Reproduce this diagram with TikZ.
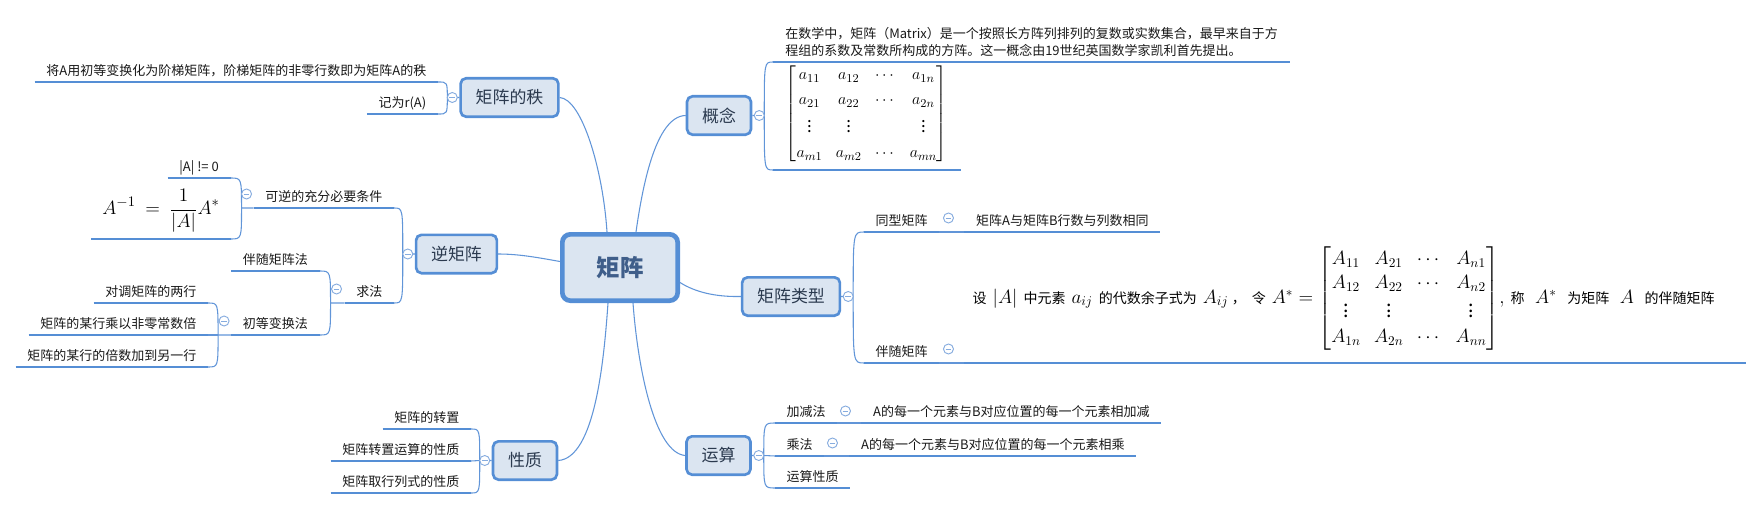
\documentclass[tikz,border=0pt]{standalone}
\usepackage{fontspec}
\usepackage{amsmath}
\setmainfont{Noto Sans CJK SC}
\usetikzlibrary{calc}
\pgfdeclarelayer{bg}
\pgfsetlayers{bg,main}
\definecolor{bfill}{HTML}{DBE5F1}
\definecolor{bline}{HTML}{558ED5}
\definecolor{cline}{HTML}{6195D8}
\definecolor{tline}{HTML}{86ACDF}
\definecolor{btext}{HTML}{2B3A4F}
\definecolor{rtext}{HTML}{3F5E8A}
\newcommand\zs[1]{{\fontsize{10.5}{12}\selectfont #1}}
\newcommand\gp{\hspace{4.5pt}}
\newcommand\gq{\hspace{8pt}}
\begin{document}
\begin{tikzpicture}[x=0.75pt,y=-0.75pt,
 topic/.style={draw=bline, fill=bfill, line width=2pt, rounded corners=4pt, minimum height=28.75pt, inner xsep=11.25pt, inner ysep=0pt, text=btext, font=\fontsize{12.7}{15}\selectfont},
 root/.style={topic, line width=3.5pt, rounded corners=6pt, minimum width=86.5pt, minimum height=49.75pt, text=rtext, font=\fontsize{17.6}{20}\selectfont\bfseries},
 leaf/.style={inner xsep=8.6pt, inner ysep=4.5pt, text depth=0pt, text height=7.5pt, font=\fontsize{9.75}{12}\selectfont, text=black!90},
 para/.style={inner xsep=9pt, inner ysep=4.5pt, text depth=0pt, align=left, font=\fontsize{9.75}{12.75}\selectfont, text=black!90},
 fml/.style={inner xsep=8pt, inner ysep=4.5pt, font=\fontsize{15}{18}\selectfont},
 mat/.style={inner xsep=9.5pt, inner ysep=3.5pt, font=\fontsize{12.6}{15}\selectfont},
 uline/.style={draw=bline, line width=2pt},
 conn/.style={draw=cline, line width=0.8pt},
 tog/.style={circle, draw=tline, fill=white, line width=0.7pt, minimum size=7.5pt, inner sep=0pt,
   path picture={\draw[tline, line width=0.7pt] ([xshift=-2.2pt]path picture bounding box.center) -- ([xshift=2.2pt]path picture bounding box.center);}},
]
\useasboundingbox (0,0) rectangle (1753,510);

% ---------- root and main topics
\node[root] (R) at (620,267.5) {矩阵};
\node[topic] (K) at (509.5,97.5) {矩阵的秩};
\node[topic] (N) at (456.5,254) {逆矩阵};
\node[topic] (X) at (525,460.5) {性质};
\node[topic] (G) at (719,115.5) {概念};
\node[topic] (L) at (791,296.5) {矩阵类型};
\node[topic] (Y) at (718.5,455.5) {运算};

\begin{pgfonlayer}{bg}
\draw[conn] ($(R.north)+(-13,0)$) .. controls (603,170) and (582,99) .. (K.east);
\draw[conn] ($(R.north)+(16,0)$) .. controls (642,190) and (655,116) .. (G.west);
\draw[conn] ($(R.west)+(0,-6)$) .. controls (540,258) and (520,254) .. (N.east);
\draw[conn] ($(R.east)+(0,15)$) .. controls (695,292) and (715,297) .. (L.west);
\draw[conn] ($(R.south)+(-12,0)$) .. controls (604,360) and (595,458) .. (X.east);
\draw[conn] ($(R.south)+(13,0)$) .. controls (638,370) and (655,453) .. (Y.west);
\end{pgfonlayer}

% ---------- 矩阵的秩
\coordinate (Kp) at ($(K.west)+(-12,0)$);
\node[leaf, anchor=south east] (K1) at (438,82) {将A用初等变换化为阶梯矩阵，阶梯矩阵的非零行数即为矩阵A的秩};
\node[leaf, anchor=south east] (K2) at (438,114) {记为r(A)};
\begin{pgfonlayer}{bg}
\draw[conn] (K.west) -- (Kp) .. controls (Kp |- K1.south east) .. (K1.south east);
\draw[conn] (Kp) .. controls (Kp |- K2.south east) .. (K2.south east);
\end{pgfonlayer}
\draw[uline] (K1.south west) -- (K1.south east);
\draw[uline] (K2.south west) -- (K2.south east);
\node[tog] (Kt) at ($(K.west)+(-7,0)$) {};

% ---------- 逆矩阵
\coordinate (Np) at ($(N.west)+(-12,0)$);
\node[leaf, anchor=south east] (N1) at (394,208) {可逆的充分必要条件};
\node[leaf, anchor=south east] (N2) at (394,303) {求法};
\begin{pgfonlayer}{bg}
\draw[conn] (N.west) -- (Np) .. controls (Np |- N1.south east) .. (N1.south east);
\draw[conn] (Np) .. controls (Np |- N2.south east) .. (N2.south east);
\end{pgfonlayer}
\draw[uline] (N1.south west) -- (N1.south east);
\draw[uline] (N2.south west) -- (N2.south east);
\node[tog] (Nt) at ($(N.west)+(-7,0)$) {};

% 可逆的充分必要条件
\coordinate (N1p) at ($(N1.south west)+(-12,0)$);
\node[leaf, anchor=south east] (C1) at ($(N1.south west)+(-23,-30)$) {|A| != 0};
\node[fml, anchor=south east] (C2) at ($(N1.south west)+(-23,31)$) {$\displaystyle A^{-1}\mkern4mu=\mkern4mu\frac{1}{|A|}A^*$};
\begin{pgfonlayer}{bg}
\draw[conn] (N1.south west) -- (N1p) .. controls (N1p |- C1.south east) .. (C1.south east);
\draw[conn] (N1p) .. controls (N1p |- C2.south east) .. (C2.south east);
\end{pgfonlayer}
\draw[uline] (C1.south west) -- (C1.south east);
\draw[uline] (C2.south west) -- (C2.south east);
\node[tog] (N1t) at ($(N1.south west)+(-7,-14)$) {};

% 求法
\coordinate (N2p) at ($(N2.south west)+(-14,0)$);
\node[leaf, anchor=south east] (M1) at ($(N2.south west)+(-25,-32)$) {伴随矩阵法};
\node[leaf, anchor=south east] (M2) at ($(N2.south west)+(-25,32)$) {初等变换法};
\begin{pgfonlayer}{bg}
\draw[conn] (N2.south west) -- (N2p) .. controls (N2p |- M1.south east) .. (M1.south east);
\draw[conn] (N2p) .. controls (N2p |- M2.south east) .. (M2.south east);
\end{pgfonlayer}
\draw[uline] (M1.south west) -- (M1.south east);
\draw[uline] (M2.south west) -- (M2.south east);
\node[tog] (N2t) at ($(N2.south west)+(-8,-14)$) {};

% 初等变换法
\coordinate (M2p) at ($(M2.south west)+(-13,0)$);
\node[leaf, anchor=south east] (E1) at ($(M2.south west)+(-23,-32)$) {对调矩阵的两行};
\node[leaf, anchor=south east] (E2) at ($(M2.south west)+(-23,0)$) {矩阵的某行乘以非零常数倍};
\node[leaf, anchor=south east] (E3) at ($(M2.south west)+(-23,32)$) {矩阵的某行的倍数加到另一行};
\begin{pgfonlayer}{bg}
\draw[conn] (M2.south west) -- (M2p) .. controls (M2p |- E1.south east) .. (E1.south east);
\draw[conn] (M2p) -- (E2.south east);
\draw[conn] (M2p) .. controls (M2p |- E3.south east) .. (E3.south east);
\end{pgfonlayer}
\draw[uline] (E1.south west) -- (E1.south east);
\draw[uline] (E2.south west) -- (E2.south east);
\draw[uline] (E3.south west) -- (E3.south east);
\node[tog] (M2t) at ($(M2.south west)+(-7,-14)$) {};

% ---------- 性质
\coordinate (Xp) at ($(X.west)+(-12,0)$);
\node[leaf, anchor=south east] (P1) at (471,429) {矩阵的转置};
\node[leaf, anchor=south east] (P2) at (471,461) {矩阵转置运算的性质};
\node[leaf, anchor=south east] (P3) at (471,493) {矩阵取行列式的性质};
\begin{pgfonlayer}{bg}
\draw[conn] (X.west) -- (Xp) .. controls (Xp |- P1.south east) .. (P1.south east);
\draw[conn] (Xp) -- (P2.south east);
\draw[conn] (Xp) .. controls (Xp |- P3.south east) .. (P3.south east);
\end{pgfonlayer}
\draw[uline] (P1.south west) -- (P1.south east);
\draw[uline] (P2.south west) -- (P2.south east);
\draw[uline] (P3.south west) -- (P3.south east);
\node[tog] (Xt) at ($(X.west)+(-7,0)$) {};

% ---------- 概念
\coordinate (Gp) at ($(G.east)+(12,0)$);
\node[para, anchor=south west] (G1) at (773,62) {在数学中，矩阵（Matrix）是一个按照长方阵列排列的复数或实数集合，最早来自于方\\程组的系数及常数所构成的方阵。这一概念由19世纪英国数学家凯利首先提出。};
\node[mat, anchor=south west] (G2) at (773,170) {\renewcommand\arraystretch{1.24}$\begin{bmatrix} a_{11} & a_{12} & \cdots & a_{1n}\\ a_{21} & a_{22} & \cdots & a_{2n}\\ \vdots & \vdots & & \vdots\\ a_{m1} & a_{m2} & \cdots & a_{mn}\end{bmatrix}$};
\begin{pgfonlayer}{bg}
\draw[conn] (G.east) -- (Gp) .. controls (Gp |- G1.south west) .. (G1.south west);
\draw[conn] (Gp) .. controls (Gp |- G2.south west) .. (G2.south west);
\end{pgfonlayer}
\draw[uline] (G1.south west) -- (G1.south east);
\draw[uline] (G2.south west) -- (G2.south east);
\node[tog] (Gt) at ($(G.east)+(7,0)$) {};

% ---------- 矩阵类型
\coordinate (Lp) at ($(L.east)+(12,0)$);
\node[leaf, anchor=south west] (T1) at (864,232) {同型矩阵};
\node[leaf, anchor=south west] (T2) at (864,363) {伴随矩阵};
\node[leaf, anchor=south west] (T1a) at ($(T1.south east)+(25,0)$) {矩阵A与矩阵B行数与列数相同};
\node[anchor=south west, inner xsep=6pt, inner ysep=9.5pt, font=\fontsize{14.7}{17.5}\selectfont] (T2a) at ($(T2.south east)+(25,0)$)
 {\renewcommand\arraystretch{1.06}\zs{设}\gp$|A|$\gp\zs{中元素}\gp$a_{ij}$\gp\zs{的代数余子式为}\gp$A_{ij}$\,\zs{，}\gp\zs{令}\gp$A^*=\begin{bmatrix} A_{11} & A_{21} & \cdots & A_{n1}\\ A_{12} & A_{22} & \cdots & A_{n2}\\ \vdots & \vdots & & \vdots\\ A_{1n} & A_{2n} & \cdots & A_{nn}\end{bmatrix}$$,$\gp\zs{称}\gq$A^*$\gq\zs{为矩阵}\gq$A$\gq\zs{的伴随矩阵}};
\coordinate (T2e) at ($(T2a.south west)+(782,0)$);
\begin{pgfonlayer}{bg}
\draw[conn] (L.east) -- (Lp) .. controls (Lp |- T1.south west) .. (T1.south west);
\draw[conn] (Lp) .. controls (Lp |- T2.south west) .. (T2.south west);
\draw[conn] (T1.south east) -- (T1a.south west);
\draw[conn] (T2.south east) -- (T2a.south west);
\end{pgfonlayer}
\draw[uline] (T1.south west) -- (T1.south east);
\draw[uline] (T2.south west) -- (T2.south east);
\draw[uline] (T1a.south west) -- (T1a.south east);
\draw[uline] (T2a.south west) -- (T2e);
\node[tog] (Lt) at ($(L.east)+(7,0)$) {};
\node[tog] (T1t) at ($(T1.south east)+(9,-14)$) {};
\node[tog] (T2t) at ($(T2.south east)+(9,-14)$) {};

% ---------- 运算
\coordinate (Yp) at ($(Y.east)+(12,0)$);
\node[leaf, anchor=south west] (O1) at (775,423) {加减法};
\node[leaf, anchor=south west] (O2) at (775,456) {乘法};
\node[leaf, anchor=south west] (O3) at (775,488) {运算性质};
\node[leaf, anchor=south west] (O1a) at ($(O1.south east)+(24,0)$) {A的每一个元素与B对应位置的每一个元素相加减};
\node[leaf, anchor=south west] (O2a) at ($(O2.south east)+(25,0)$) {A的每一个元素与B对应位置的每一个元素相乘};
\begin{pgfonlayer}{bg}
\draw[conn] (Y.east) -- (Yp) .. controls (Yp |- O1.south west) .. (O1.south west);
\draw[conn] (Yp) -- (O2.south west);
\draw[conn] (Yp) .. controls (Yp |- O3.south west) .. (O3.south west);
\draw[conn] (O1.south east) -- (O1a.south west);
\draw[conn] (O2.south east) -- (O2a.south west);
\end{pgfonlayer}
\draw[uline] (O1.south west) -- (O1.south east);
\draw[uline] (O2.south west) -- (O2.south east);
\draw[uline] (O3.south west) -- (O3.south east);
\draw[uline] (O1a.south west) -- (O1a.south east);
\draw[uline] (O2a.south west) -- (O2a.south east);
\node[tog] (Yt) at ($(Y.east)+(7,0)$) {};
\node[tog] (O1t) at ($(O1.south east)+(8,-12)$) {};
\node[tog] (O2t) at ($(O2.south east)+(8,-13)$) {};
\end{tikzpicture}
\end{document}
